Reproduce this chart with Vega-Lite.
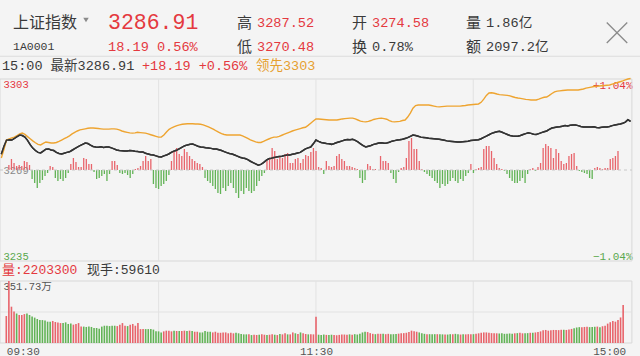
{
"$schema": "https://vega.github.io/schema/vega-lite/v6.json",
"width": 640, "height": 356, "padding": 0, "autosize": {"type": "none"},
"background": "#f4f4f4",
"config": {"view": {"stroke": null}, "font": "Liberation Mono, Noto Sans CJK SC"},
"datasets": {
"hdr": [
{"line":1,"col":0,"label":"上证指数","tone":"ink","role":"name"},
{"line":1,"col":2,"label":"3286.91","tone":"up","role":"last"},
{"line":1,"col":3,"label":"高","tone":"ink","role":"key"},
{"line":1,"col":4,"label":"3287.52","tone":"up","role":"val"},
{"line":1,"col":5,"label":"开","tone":"ink","role":"key"},
{"line":1,"col":6,"label":"3274.58","tone":"up","role":"val"},
{"line":1,"col":7,"label":"量","tone":"ink","role":"key"},
{"line":1,"col":8,"label":"1.86亿","tone":"ink","role":"val"},
{"line":2,"col":0,"label":"1A0001","tone":"ink","role":"code"},
{"line":2,"col":2,"label":"18.19 0.56%","tone":"up","role":"val"},
{"line":2,"col":3,"label":"低","tone":"ink","role":"key"},
{"line":2,"col":4,"label":"3270.48","tone":"up","role":"val"},
{"line":2,"col":5,"label":"换","tone":"ink","role":"key"},
{"line":2,"col":6,"label":"0.78%","tone":"ink","role":"val"},
{"line":2,"col":7,"label":"额","tone":"ink","role":"key"},
{"line":2,"col":8,"label":"2097.2亿","tone":"ink","role":"val"},
{"line":3,"col":10,"label":"15:00 最新3286.91","tone":"ink","role":"info"},
{"line":3,"col":11,"label":"+18.19 +0.56%","tone":"up","role":"info"},
{"line":3,"col":12,"label":"领先3303","tone":"lead","role":"info"},
{"line":4,"col":13,"label":"量:2203300","tone":"up","role":"vol"},
{"line":4,"col":14,"label":"现手:59610","tone":"ink","role":"vol"},
{"line":1,"col":1,"label":"","tone":"muted","role":"menu"},
{"line":1.5,"col":9,"label":"","tone":"muted","role":"close"}
],
"m": [
{"t":0,"p":3274.6,"l":3273.2,"s":0,"v":153,"c":"u"},
{"t":1,"p":3277.5,"l":3276.5,"s":5,"v":351.73,"c":"u"},
{"t":2,"p":3279.9,"l":3279.9,"s":11,"v":206,"c":"u"},
{"t":3,"p":3280.0,"l":3280.3,"s":7,"v":178,"c":"u"},
{"t":4,"p":3279.9,"l":3280.7,"s":4,"v":168,"c":"d"},
{"t":5,"p":3280.5,"l":3281.0,"s":5,"v":159,"c":"u"},
{"t":6,"p":3281.2,"l":3281.6,"s":4,"v":159,"c":"u"},
{"t":7,"p":3281.8,"l":3282.2,"s":9,"v":164,"c":"u"},
{"t":8,"p":3281.6,"l":3282.5,"s":8,"v":168,"c":"d"},
{"t":9,"p":3281.0,"l":3282.0,"s":5,"v":159,"c":"d"},
{"t":10,"p":3279.8,"l":3281.2,"s":-9,"v":150,"c":"d"},
{"t":11,"p":3278.2,"l":3280.4,"s":-13,"v":144,"c":"d"},
{"t":12,"p":3276.9,"l":3279.6,"s":-18,"v":136,"c":"d"},
{"t":13,"p":3276.0,"l":3278.9,"s":-13,"v":130,"c":"d"},
{"t":14,"p":3275.3,"l":3278.3,"s":-10,"v":130,"c":"d"},
{"t":15,"p":3275.1,"l":3278.1,"s":-6,"v":127,"c":"d"},
{"t":16,"p":3275.8,"l":3278.7,"s":-3,"v":121,"c":"d"},
{"t":17,"p":3276.5,"l":3279.2,"s":4,"v":121,"c":"d"},
{"t":18,"p":3276.6,"l":3279.0,"s":3,"v":125,"c":"u"},
{"t":19,"p":3276.2,"l":3278.8,"s":-8,"v":119,"c":"u"},
{"t":20,"p":3276.0,"l":3278.8,"s":-11,"v":117,"c":"u"},
{"t":21,"p":3275.3,"l":3279.0,"s":-9,"v":113,"c":"u"},
{"t":22,"p":3274.9,"l":3279.4,"s":-11,"v":113,"c":"d"},
{"t":23,"p":3274.7,"l":3279.9,"s":-8,"v":117,"c":"d"},
{"t":24,"p":3275.0,"l":3280.4,"s":-3,"v":108,"c":"d"},
{"t":25,"p":3275.3,"l":3280.9,"s":6,"v":110,"c":"d"},
{"t":26,"p":3275.5,"l":3281.5,"s":12,"v":104,"c":"u"},
{"t":27,"p":3276.1,"l":3282.2,"s":8,"v":108,"c":"u"},
{"t":28,"p":3276.7,"l":3282.8,"s":3,"v":113,"c":"u"},
{"t":29,"p":3277.3,"l":3283.3,"s":3,"v":93,"c":"u"},
{"t":30,"p":3277.8,"l":3283.7,"s":12,"v":93,"c":"d"},
{"t":31,"p":3278.3,"l":3283.9,"s":11,"v":91,"c":"d"},
{"t":32,"p":3278.8,"l":3284.1,"s":6,"v":93,"c":"d"},
{"t":33,"p":3278.6,"l":3284.3,"s":6,"v":91,"c":"d"},
{"t":34,"p":3278.0,"l":3284.4,"s":-2,"v":85,"c":"d"},
{"t":35,"p":3277.5,"l":3284.4,"s":-9,"v":85,"c":"d"},
{"t":36,"p":3277.3,"l":3284.3,"s":-8,"v":81,"c":"d"},
{"t":37,"p":3277.2,"l":3284.2,"s":-6,"v":93,"c":"d"},
{"t":38,"p":3277.4,"l":3284.1,"s":-4,"v":98,"c":"d"},
{"t":39,"p":3277.1,"l":3284.0,"s":-11,"v":98,"c":"d"},
{"t":40,"p":3277.3,"l":3284.0,"s":-4,"v":96,"c":"d"},
{"t":41,"p":3277.3,"l":3284.0,"s":9,"v":98,"c":"d"},
{"t":42,"p":3277.0,"l":3284.1,"s":9,"v":98,"c":"d"},
{"t":43,"p":3276.6,"l":3284.1,"s":5,"v":96,"c":"u"},
{"t":44,"p":3276.2,"l":3284.0,"s":-3,"v":104,"c":"u"},
{"t":45,"p":3276.0,"l":3283.7,"s":-4,"v":113,"c":"u"},
{"t":46,"p":3275.9,"l":3283.3,"s":-3,"v":98,"c":"u"},
{"t":47,"p":3275.8,"l":3283.0,"s":-5,"v":96,"c":"d"},
{"t":48,"p":3275.8,"l":3282.8,"s":-8,"v":104,"c":"u"},
{"t":49,"p":3276.0,"l":3282.6,"s":-4,"v":108,"c":"u"},
{"t":50,"p":3275.9,"l":3282.5,"s":1,"v":98,"c":"u"},
{"t":51,"p":3275.7,"l":3282.6,"s":2,"v":113,"c":"u"},
{"t":52,"p":3275.6,"l":3282.8,"s":4,"v":79,"c":"u"},
{"t":53,"p":3275.4,"l":3282.7,"s":9,"v":79,"c":"u"},
{"t":54,"p":3275.4,"l":3282.6,"s":14,"v":79,"c":"d"},
{"t":55,"p":3275.0,"l":3282.5,"s":9,"v":79,"c":"d"},
{"t":56,"p":3274.7,"l":3282.2,"s":11,"v":79,"c":"d"},
{"t":57,"p":3274.4,"l":3281.9,"s":-14,"v":76,"c":"d"},
{"t":58,"p":3274.3,"l":3281.6,"s":-18,"v":66,"c":"d"},
{"t":59,"p":3274.0,"l":3281.3,"s":-19,"v":66,"c":"d"},
{"t":60,"p":3273.7,"l":3281.0,"s":-16,"v":60,"c":"d"},
{"t":61,"p":3273.6,"l":3281.0,"s":-14,"v":66,"c":"u"},
{"t":62,"p":3274.0,"l":3281.8,"s":-11,"v":70,"c":"u"},
{"t":63,"p":3274.3,"l":3282.9,"s":-5,"v":70,"c":"u"},
{"t":64,"p":3274.8,"l":3283.9,"s":9,"v":66,"c":"u"},
{"t":65,"p":3275.4,"l":3284.5,"s":19,"v":70,"c":"d"},
{"t":66,"p":3275.8,"l":3284.9,"s":22,"v":68,"c":"u"},
{"t":67,"p":3276.2,"l":3285.3,"s":16,"v":68,"c":"d"},
{"t":68,"p":3276.7,"l":3285.6,"s":14,"v":68,"c":"u"},
{"t":69,"p":3277.3,"l":3285.8,"s":21,"v":70,"c":"u"},
{"t":70,"p":3277.8,"l":3285.9,"s":18,"v":68,"c":"d"},
{"t":71,"p":3278.1,"l":3286.0,"s":14,"v":70,"c":"u"},
{"t":72,"p":3278.3,"l":3286.0,"s":11,"v":68,"c":"d"},
{"t":73,"p":3278.4,"l":3286.0,"s":9,"v":64,"c":"u"},
{"t":74,"p":3278.0,"l":3285.9,"s":7,"v":64,"c":"u"},
{"t":75,"p":3277.6,"l":3285.9,"s":6,"v":60,"c":"d"},
{"t":76,"p":3277.3,"l":3285.8,"s":3,"v":60,"c":"d"},
{"t":77,"p":3277.2,"l":3285.6,"s":-8,"v":68,"c":"d"},
{"t":78,"p":3277.0,"l":3285.2,"s":-11,"v":64,"c":"d"},
{"t":79,"p":3276.9,"l":3284.8,"s":-13,"v":64,"c":"d"},
{"t":80,"p":3276.8,"l":3284.4,"s":-16,"v":60,"c":"u"},
{"t":81,"p":3276.6,"l":3283.9,"s":-19,"v":64,"c":"u"},
{"t":82,"p":3276.6,"l":3283.3,"s":-23,"v":58,"c":"u"},
{"t":83,"p":3276.3,"l":3282.8,"s":-24,"v":58,"c":"u"},
{"t":84,"p":3276.0,"l":3282.3,"s":-18,"v":60,"c":"u"},
{"t":85,"p":3275.6,"l":3282.0,"s":-21,"v":60,"c":"u"},
{"t":86,"p":3275.2,"l":3281.8,"s":-16,"v":55,"c":"u"},
{"t":87,"p":3274.9,"l":3281.8,"s":-13,"v":58,"c":"u"},
{"t":88,"p":3274.7,"l":3281.8,"s":-18,"v":55,"c":"u"},
{"t":89,"p":3274.3,"l":3281.8,"s":-23,"v":58,"c":"d"},
{"t":90,"p":3273.9,"l":3281.8,"s":-28,"v":55,"c":"d"},
{"t":91,"p":3273.5,"l":3281.8,"s":-21,"v":51,"c":"d"},
{"t":92,"p":3273.2,"l":3281.5,"s":-24,"v":49,"c":"d"},
{"t":93,"p":3273.0,"l":3281.0,"s":-18,"v":49,"c":"d"},
{"t":94,"p":3272.6,"l":3280.5,"s":-21,"v":49,"c":"u"},
{"t":95,"p":3272.0,"l":3280.0,"s":-23,"v":45,"c":"d"},
{"t":96,"p":3271.5,"l":3279.6,"s":-21,"v":47,"c":"u"},
{"t":97,"p":3271.0,"l":3279.2,"s":-16,"v":45,"c":"u"},
{"t":98,"p":3270.5,"l":3279.0,"s":-11,"v":47,"c":"d"},
{"t":99,"p":3270.8,"l":3279.0,"s":-6,"v":49,"c":"u"},
{"t":100,"p":3271.5,"l":3279.4,"s":-3,"v":47,"c":"u"},
{"t":101,"p":3272.3,"l":3279.9,"s":9,"v":45,"c":"d"},
{"t":102,"p":3272.9,"l":3280.3,"s":12,"v":47,"c":"u"},
{"t":103,"p":3273.1,"l":3280.7,"s":22,"v":49,"c":"u"},
{"t":104,"p":3273.4,"l":3281.0,"s":19,"v":47,"c":"d"},
{"t":105,"p":3273.6,"l":3281.0,"s":11,"v":45,"c":"u"},
{"t":106,"p":3273.8,"l":3281.3,"s":14,"v":51,"c":"d"},
{"t":107,"p":3273.9,"l":3281.7,"s":12,"v":49,"c":"u"},
{"t":108,"p":3274.1,"l":3282.1,"s":16,"v":55,"c":"u"},
{"t":109,"p":3274.3,"l":3282.5,"s":17,"v":49,"c":"d"},
{"t":110,"p":3274.3,"l":3282.9,"s":7,"v":49,"c":"u"},
{"t":111,"p":3274.6,"l":3283.3,"s":7,"v":60,"c":"u"},
{"t":112,"p":3274.8,"l":3283.6,"s":11,"v":55,"c":"d"},
{"t":113,"p":3275.1,"l":3283.9,"s":12,"v":51,"c":"u"},
{"t":114,"p":3275.3,"l":3284.2,"s":7,"v":60,"c":"d"},
{"t":115,"p":3276.0,"l":3284.5,"s":11,"v":55,"c":"u"},
{"t":116,"p":3276.6,"l":3284.7,"s":15,"v":51,"c":"u"},
{"t":117,"p":3277.0,"l":3285.4,"s":14,"v":49,"c":"d"},
{"t":118,"p":3277.3,"l":3286.2,"s":18,"v":49,"c":"u"},
{"t":119,"p":3278.5,"l":3287.0,"s":22,"v":49,"c":"u"},
{"t":120,"p":3279.9,"l":3287.8,"s":19,"v":149,"c":"u"},
{"t":121,"p":3279.4,"l":3287.8,"s":3,"v":47,"c":"d"},
{"t":122,"p":3279.0,"l":3287.7,"s":2,"v":45,"c":"d"},
{"t":123,"p":3278.8,"l":3287.6,"s":-4,"v":48,"c":"d"},
{"t":124,"p":3278.6,"l":3287.5,"s":9,"v":46,"c":"u"},
{"t":125,"p":3278.5,"l":3287.4,"s":4,"v":45,"c":"d"},
{"t":126,"p":3278.3,"l":3287.4,"s":3,"v":47,"c":"d"},
{"t":127,"p":3278.6,"l":3287.4,"s":4,"v":46,"c":"u"},
{"t":128,"p":3279.0,"l":3287.4,"s":14,"v":44,"c":"u"},
{"t":129,"p":3279.3,"l":3287.6,"s":16,"v":46,"c":"u"},
{"t":130,"p":3279.6,"l":3287.8,"s":11,"v":48,"c":"u"},
{"t":131,"p":3279.9,"l":3287.9,"s":9,"v":48,"c":"u"},
{"t":132,"p":3280.1,"l":3288.0,"s":4,"v":47,"c":"u"},
{"t":133,"p":3280.0,"l":3288.1,"s":4,"v":49,"c":"d"},
{"t":134,"p":3280.2,"l":3288.1,"s":3,"v":47,"c":"u"},
{"t":135,"p":3279.8,"l":3287.8,"s":2,"v":50,"c":"d"},
{"t":136,"p":3279.2,"l":3287.4,"s":1,"v":48,"c":"d"},
{"t":137,"p":3278.5,"l":3287.0,"s":-8,"v":52,"c":"d"},
{"t":138,"p":3277.8,"l":3286.8,"s":-13,"v":60,"c":"d"},
{"t":139,"p":3277.3,"l":3286.7,"s":-10,"v":64,"c":"d"},
{"t":140,"p":3277.6,"l":3286.9,"s":6,"v":62,"c":"u"},
{"t":141,"p":3277.9,"l":3287.2,"s":4,"v":56,"c":"u"},
{"t":142,"p":3278.3,"l":3287.6,"s":1,"v":52,"c":"u"},
{"t":143,"p":3278.5,"l":3287.8,"s":1,"v":50,"c":"d"},
{"t":144,"p":3278.8,"l":3288.0,"s":0,"v":52,"c":"u"},
{"t":145,"p":3278.9,"l":3288.1,"s":14,"v":52,"c":"u"},
{"t":146,"p":3278.7,"l":3287.9,"s":9,"v":53,"c":"d"},
{"t":147,"p":3278.8,"l":3287.7,"s":9,"v":50,"c":"u"},
{"t":148,"p":3279.1,"l":3287.2,"s":7,"v":52,"c":"u"},
{"t":149,"p":3279.5,"l":3286.8,"s":-3,"v":50,"c":"d"},
{"t":150,"p":3279.7,"l":3286.7,"s":-9,"v":50,"c":"d"},
{"t":151,"p":3279.9,"l":3286.8,"s":-13,"v":51,"c":"d"},
{"t":152,"p":3280.0,"l":3286.9,"s":-2,"v":53,"c":"u"},
{"t":153,"p":3280.2,"l":3287.2,"s":2,"v":55,"c":"u"},
{"t":154,"p":3280.5,"l":3287.4,"s":3,"v":56,"c":"u"},
{"t":155,"p":3280.8,"l":3288.5,"s":12,"v":58,"c":"u"},
{"t":156,"p":3281.3,"l":3290.0,"s":29,"v":62,"c":"u"},
{"t":157,"p":3281.8,"l":3291.8,"s":32,"v":70,"c":"u"},
{"t":158,"p":3281.6,"l":3292.8,"s":21,"v":66,"c":"u"},
{"t":159,"p":3281.3,"l":3293.0,"s":21,"v":64,"c":"u"},
{"t":160,"p":3281.0,"l":3293.0,"s":9,"v":60,"c":"d"},
{"t":161,"p":3280.9,"l":3293.0,"s":1,"v":55,"c":"d"},
{"t":162,"p":3280.8,"l":3293.0,"s":-2,"v":52,"c":"d"},
{"t":163,"p":3280.6,"l":3293.0,"s":-4,"v":50,"c":"u"},
{"t":164,"p":3280.5,"l":3292.8,"s":-6,"v":50,"c":"d"},
{"t":165,"p":3280.4,"l":3292.6,"s":-8,"v":49,"c":"d"},
{"t":166,"p":3280.3,"l":3292.4,"s":-11,"v":50,"c":"d"},
{"t":167,"p":3280.2,"l":3292.3,"s":-13,"v":50,"c":"u"},
{"t":168,"p":3280.0,"l":3292.4,"s":-18,"v":50,"c":"d"},
{"t":169,"p":3279.8,"l":3292.5,"s":-14,"v":49,"c":"d"},
{"t":170,"p":3279.6,"l":3292.6,"s":-16,"v":48,"c":"u"},
{"t":171,"p":3279.5,"l":3292.6,"s":-14,"v":48,"c":"d"},
{"t":172,"p":3279.4,"l":3292.6,"s":-11,"v":50,"c":"d"},
{"t":173,"p":3279.3,"l":3292.6,"s":-8,"v":50,"c":"u"},
{"t":174,"p":3279.2,"l":3292.6,"s":-11,"v":52,"c":"d"},
{"t":175,"p":3279.2,"l":3292.6,"s":-13,"v":50,"c":"d"},
{"t":176,"p":3279.3,"l":3292.7,"s":-9,"v":48,"c":"u"},
{"t":177,"p":3279.4,"l":3292.8,"s":-11,"v":50,"c":"d"},
{"t":178,"p":3279.5,"l":3293.0,"s":-6,"v":49,"c":"u"},
{"t":179,"p":3279.7,"l":3293.1,"s":-3,"v":50,"c":"u"},
{"t":180,"p":3279.8,"l":3293.2,"s":6,"v":50,"c":"u"},
{"t":181,"p":3279.9,"l":3293.3,"s":-3,"v":50,"c":"d"},
{"t":182,"p":3280.0,"l":3293.4,"s":1,"v":52,"c":"u"},
{"t":183,"p":3280.4,"l":3294.0,"s":2,"v":55,"c":"u"},
{"t":184,"p":3280.9,"l":3295.2,"s":3,"v":58,"c":"u"},
{"t":185,"p":3281.4,"l":3296.6,"s":21,"v":60,"c":"u"},
{"t":186,"p":3281.9,"l":3297.5,"s":24,"v":60,"c":"u"},
{"t":187,"p":3282.4,"l":3297.6,"s":24,"v":58,"c":"u"},
{"t":188,"p":3282.7,"l":3297.4,"s":19,"v":56,"c":"u"},
{"t":189,"p":3283.0,"l":3297.1,"s":12,"v":55,"c":"u"},
{"t":190,"p":3283.2,"l":3296.9,"s":6,"v":55,"c":"u"},
{"t":191,"p":3282.8,"l":3296.8,"s":2,"v":54,"c":"d"},
{"t":192,"p":3282.4,"l":3296.7,"s":1,"v":55,"c":"d"},
{"t":193,"p":3282.0,"l":3296.6,"s":-1,"v":52,"c":"d"},
{"t":194,"p":3281.6,"l":3296.4,"s":-4,"v":52,"c":"d"},
{"t":195,"p":3281.4,"l":3296.1,"s":-8,"v":54,"c":"d"},
{"t":196,"p":3281.3,"l":3295.8,"s":-11,"v":53,"c":"d"},
{"t":197,"p":3281.3,"l":3295.6,"s":-13,"v":55,"c":"u"},
{"t":198,"p":3281.6,"l":3295.5,"s":-13,"v":56,"c":"d"},
{"t":199,"p":3282.0,"l":3295.3,"s":-11,"v":58,"c":"u"},
{"t":200,"p":3282.3,"l":3295.1,"s":-8,"v":55,"c":"u"},
{"t":201,"p":3282.6,"l":3295.0,"s":-13,"v":55,"c":"d"},
{"t":202,"p":3282.4,"l":3294.9,"s":-4,"v":56,"c":"d"},
{"t":203,"p":3282.1,"l":3294.9,"s":1,"v":58,"c":"u"},
{"t":204,"p":3282.0,"l":3294.9,"s":2,"v":58,"c":"d"},
{"t":205,"p":3282.3,"l":3295.2,"s":-1,"v":60,"c":"u"},
{"t":206,"p":3282.7,"l":3295.6,"s":3,"v":62,"c":"u"},
{"t":207,"p":3283.0,"l":3295.9,"s":7,"v":66,"c":"u"},
{"t":208,"p":3283.3,"l":3296.0,"s":22,"v":72,"c":"u"},
{"t":209,"p":3283.9,"l":3296.6,"s":26,"v":74,"c":"u"},
{"t":210,"p":3284.4,"l":3297.3,"s":24,"v":70,"c":"u"},
{"t":211,"p":3284.6,"l":3297.9,"s":22,"v":72,"c":"u"},
{"t":212,"p":3284.8,"l":3298.2,"s":12,"v":74,"c":"u"},
{"t":213,"p":3284.9,"l":3298.3,"s":21,"v":74,"c":"u"},
{"t":214,"p":3285.1,"l":3298.4,"s":17,"v":73,"c":"u"},
{"t":215,"p":3285.3,"l":3298.5,"s":9,"v":75,"c":"u"},
{"t":216,"p":3285.2,"l":3298.6,"s":6,"v":75,"c":"d"},
{"t":217,"p":3285.4,"l":3298.6,"s":7,"v":74,"c":"u"},
{"t":218,"p":3285.5,"l":3298.6,"s":14,"v":76,"c":"u"},
{"t":219,"p":3285.5,"l":3298.6,"s":16,"v":80,"c":"u"},
{"t":220,"p":3285.3,"l":3298.6,"s":17,"v":84,"c":"d"},
{"t":221,"p":3285.0,"l":3298.8,"s":4,"v":88,"c":"d"},
{"t":222,"p":3284.8,"l":3299.0,"s":-1,"v":90,"c":"d"},
{"t":223,"p":3284.8,"l":3299.3,"s":-2,"v":90,"c":"u"},
{"t":224,"p":3284.8,"l":3299.5,"s":-3,"v":91,"c":"u"},
{"t":225,"p":3284.8,"l":3299.7,"s":-4,"v":92,"c":"u"},
{"t":226,"p":3284.9,"l":3299.9,"s":-8,"v":90,"c":"d"},
{"t":227,"p":3284.6,"l":3300.0,"s":-9,"v":91,"c":"d"},
{"t":228,"p":3284.5,"l":3300.1,"s":2,"v":92,"c":"d"},
{"t":229,"p":3284.7,"l":3300.2,"s":3,"v":93,"c":"u"},
{"t":230,"p":3284.8,"l":3300.3,"s":2,"v":90,"c":"d"},
{"t":231,"p":3284.8,"l":3300.4,"s":1,"v":95,"c":"u"},
{"t":232,"p":3285.0,"l":3300.5,"s":2,"v":98,"c":"u"},
{"t":233,"p":3285.3,"l":3300.8,"s":2,"v":110,"c":"u"},
{"t":234,"p":3285.5,"l":3301.1,"s":11,"v":118,"c":"u"},
{"t":235,"p":3285.7,"l":3301.4,"s":12,"v":125,"c":"u"},
{"t":236,"p":3285.9,"l":3301.7,"s":14,"v":121,"c":"u"},
{"t":237,"p":3286.2,"l":3302.0,"s":19,"v":130,"c":"u"},
{"t":238,"p":3286.6,"l":3302.4,"s":0,"v":145,"c":"u"},
{"t":239,"p":3287.5,"l":3302.7,"s":0,"v":215,"c":"u"},
{"t":240,"p":3286.9,"l":3302.9,"s":0,"v":0,"c":"d"}
]
},
"resolve": {"scale": {"x": "independent", "y": "independent", "color": "independent"}, "axis": {"x": "independent", "y": "independent"}},
"layer": [
{
"data": {"name": "hdr"},
"encoding": {
"x": {"field": "col", "type": "quantitative", "scale": {"domain": [0,1,2,3,4,5,6,7,8,9,10,11,12,13,14], "range": [13,86,108,237,257,352,372,466,486,617,2,142,256,2,87], "nice": false, "zero": false}, "axis": null},
"y": {"field": "line", "type": "quantitative", "scale": {"domain": [1,2,3,4], "range": [23,46.5,66,270], "nice": false, "zero": false}, "axis": null},
"text": {"field": "label"},
"color": {"field": "tone", "type": "nominal", "scale": {"domain": ["up","ink","lead","muted"], "range": ["#e4393f","#3a3a3a","#e6a030","#8a8a8a"]}, "legend": null}
},
"layer": [
{"transform": [{"filter": "datum.role == 'name'"}], "mark": {"type": "text", "align": "left", "baseline": "middle", "fontSize": 16}},
{"transform": [{"filter": "datum.role == 'last'"}], "mark": {"type": "text", "align": "left", "baseline": "middle", "fontSize": 21.5}},
{"transform": [{"filter": "datum.role == 'key'"}], "mark": {"type": "text", "align": "left", "baseline": "middle", "fontSize": 15}},
{"transform": [{"filter": "datum.role == 'val'"}], "mark": {"type": "text", "align": "left", "baseline": "middle", "fontSize": 13.6}},
{"transform": [{"filter": "datum.role == 'code'"}], "mark": {"type": "text", "align": "left", "baseline": "middle", "fontSize": 11.5}},
{"transform": [{"filter": "datum.role == 'info'"}], "mark": {"type": "text", "align": "left", "baseline": "middle", "fontSize": 13.5}},
{"transform": [{"filter": "datum.role == 'vol'"}], "mark": {"type": "text", "align": "left", "baseline": "middle", "fontSize": 13}},
{"transform": [{"filter": "datum.role == 'menu'"}], "mark": {"type": "point", "shape": "triangle-down", "filled": true, "size": 30, "yOffset": -3, "opacity": 1}},
{"transform": [{"filter": "datum.role == 'close'"}], "mark": {"type": "point", "shape": "M-1,-1L1,1M1,-1L-1,1", "filled": false, "size": 420, "strokeWidth": 1.3, "opacity": 1, "yOffset": -2}}
]
},
{
"data": {"values": [{}]},
"mark": {"type": "rule", "stroke": "#dcdcdc", "strokeWidth": 1},
"encoding": {"y": {"datum": 2.5, "type": "quantitative", "scale": {"domain": [1,2,3,4], "range": [23,46.5,66,270], "nice": false, "zero": false}, "axis": null}}
},
{
"layer": [
{"data": {"values": [{}]}, "mark": {"type": "rect", "filled": false, "color": "#d8d8d8", "strokeWidth": 1},
"encoding": {"x": {"datum": -0.5, "type": "quantitative", "scale": {"domain": [-0.5, 243.59], "nice": false, "zero": false}, "axis": null}, "x2": {"datum": 240.5},
"y": {"datum": 3234.72, "type": "quantitative", "scale": {"domain": [3234.72, 3302.72], "range": [261, 79], "nice": false, "zero": false}, "axis": null}, "y2": {"datum": 3302.72}}},
{"data": {"values": [{"g": 60}, {"g": 120}, {"g": 180}]}, "mark": {"type": "rule", "color": "#e2e2e2", "strokeWidth": 1},
"encoding": {"x": {"field": "g", "type": "quantitative", "scale": {"domain": [-0.5, 243.59], "nice": false, "zero": false}, "axis": null},
"y": {"datum": 3234.72, "type": "quantitative", "scale": {"domain": [3234.72, 3302.72], "range": [261, 79], "nice": false, "zero": false}, "axis": null}, "y2": {"datum": 3302.72}}}
]
},
{
"data": {"name": "m"},
"mark": {"type": "line", "color": "#333333", "strokeWidth": 1.5},
"encoding": {
"x": {"field": "t", "type": "quantitative", "scale": {"domain": [-0.5, 243.59], "nice": false, "zero": false}, "axis": null},
"y": {"field": "p", "type": "quantitative", "scale": {"domain": [3234.72, 3302.72], "range": [261, 79], "nice": false, "zero": false}, "axis": {"orient": "left", "values": [3234.72, 3268.72, 3302.72], "labelExpr": "format(datum.value, '.0f')", "title": null, "domain": false, "ticks": false, "tickSize": 0, "grid": false, "labelAlign": "left", "labelPadding": -3, "labelFlush": true, "labelOverlap": false, "labelFont": "Liberation Mono", "labelFontSize": 10.5, "labelColor": {"condition": [{"test": "datum.value > 3280", "value": "#e4393f"}, {"test": "datum.value < 3250", "value": "#5aa84e"}], "value": "#8a8a8a"}}}
}
},
{
"data": {"name": "m"},
"mark": {"type": "bar", "size": 1.3},
"encoding": {
"x": {"field": "t", "type": "quantitative", "scale": {"domain": [-0.5, 243.59], "nice": false, "zero": false}, "axis": null},
"y": {"field": "s", "type": "quantitative", "scale": {"domain": [-91, 91], "range": [261, 79], "nice": false}, "axis": null},
"color": {"condition": {"test": "datum.s >= 0", "value": "#e8646b"}, "value": "#62b356"}
}
},
{
"data": {"values": [{}]},
"mark": {"type": "rule", "color": "#c8c8c8", "strokeDash": [3, 3], "strokeWidth": 1},
"encoding": {
"x": {"datum": -0.5, "type": "quantitative", "scale": {"domain": [-0.5, 243.59], "nice": false, "zero": false}, "axis": null}, "x2": {"datum": 240.5},
"y": {"datum": 0, "type": "quantitative", "scale": {"domain": [-1.0402, 1.0402], "range": [261, 79], "nice": false}, "axis": {"orient": "right", "values": [-1.0402, 1.0402], "labelExpr": "(datum.value > 0 ? '+' : '−') + format(abs(datum.value), '.2f') + '%'", "title": null, "domain": false, "ticks": false, "tickSize": 0, "grid": false, "labelAlign": "right", "labelPadding": -8, "labelFlush": true, "labelFont": "Liberation Mono", "labelFontSize": 11, "labelColor": {"condition": {"test": "datum.value > 0", "value": "#e4393f"}, "value": "#5aa84e"}}}
}
},
{
"data": {"name": "m"},
"mark": {"type": "line", "color": "#eea430", "strokeWidth": 1.4},
"encoding": {
"x": {"field": "t", "type": "quantitative", "scale": {"domain": [-0.5, 243.59], "nice": false, "zero": false}, "axis": null},
"y": {"field": "l", "type": "quantitative", "scale": {"domain": [3234.72, 3302.72], "range": [261, 79], "nice": false, "zero": false}, "axis": null}
}
},
{
"data": {"name": "m"},
"mark": {"type": "line", "color": "#333333", "strokeWidth": 1.5},
"encoding": {
"x": {"field": "t", "type": "quantitative", "scale": {"domain": [-0.5, 243.59], "nice": false, "zero": false}, "axis": null},
"y": {"field": "p", "type": "quantitative", "scale": {"domain": [3234.72, 3302.72], "range": [261, 79], "nice": false, "zero": false}, "axis": null}
}
},
{
"layer": [
{"data": {"values": [{}]}, "mark": {"type": "rect", "filled": false, "color": "#d8d8d8", "strokeWidth": 1},
"encoding": {"x": {"datum": -0.5, "type": "quantitative", "scale": {"domain": [-0.5, 243.59], "nice": false, "zero": false}, "axis": null}, "x2": {"datum": 240.5},
"y": {"datum": 0, "type": "quantitative", "scale": {"domain": [0, 351.73], "range": [343, 281], "nice": false}, "axis": null}, "y2": {"datum": 351.73}}},
{"data": {"values": [{"g": 60}, {"g": 120}, {"g": 180}]}, "mark": {"type": "rule", "color": "#e2e2e2", "strokeWidth": 1},
"encoding": {"x": {"field": "g", "type": "quantitative", "scale": {"domain": [-0.5, 243.59], "nice": false, "zero": false}, "axis": null},
"y": {"datum": 0, "type": "quantitative", "scale": {"domain": [0, 351.73], "range": [343, 281], "nice": false}, "axis": null}, "y2": {"datum": 351.73}}},
{"data": {"values": [{}]}, "mark": {"type": "rule", "color": "#e2e2e2", "strokeWidth": 1},
"encoding": {"x": {"datum": -0.5, "type": "quantitative", "scale": {"domain": [-0.5, 243.59], "nice": false, "zero": false}, "axis": null}, "x2": {"datum": 240.5},
"y": {"datum": 175.865, "type": "quantitative", "scale": {"domain": [0, 351.73], "range": [343, 281], "nice": false}, "axis": null}}}
]
},
{
"data": {"name": "m"},
"mark": {"type": "bar", "size": 1.6},
"encoding": {
"x": {"field": "t", "type": "quantitative", "scale": {"domain": [-0.5, 243.59], "nice": false, "zero": false}, "axis": {"orient": "bottom", "offset": -13, "values": [0, 120, 240], "labelExpr": "datum.value == 0 ? '09:30' : datum.value == 120 ? '11:30' : '15:00'", "title": null, "domain": false, "ticks": false, "tickSize": 0, "grid": false, "labelPadding": 2, "labelFlush": false, "labelOverlap": false, "labelAlign": {"condition": [{"test": "datum.value == 0", "value": "left"}, {"test": "datum.value == 240", "value": "right"}], "value": "center"}, "labelFont": "Liberation Mono", "labelFontSize": 11, "labelColor": "#555555"}},
"y": {"field": "v", "type": "quantitative", "scale": {"domain": [0, 351.73], "range": [343, 281], "nice": false}, "axis": {"orient": "left", "values": [351.73], "labelExpr": "'351.73万'", "title": null, "domain": false, "ticks": false, "tickSize": 0, "grid": false, "labelAlign": "left", "labelPadding": -3, "labelFlush": true, "labelFont": "Liberation Mono, Noto Sans CJK SC", "labelFontSize": 10.5, "labelColor": "#555555"}},
"color": {"field": "c", "type": "nominal", "scale": {"domain": ["u", "d"], "range": ["#e8646b", "#62b356"]}, "legend": null}
}
}
]
}
